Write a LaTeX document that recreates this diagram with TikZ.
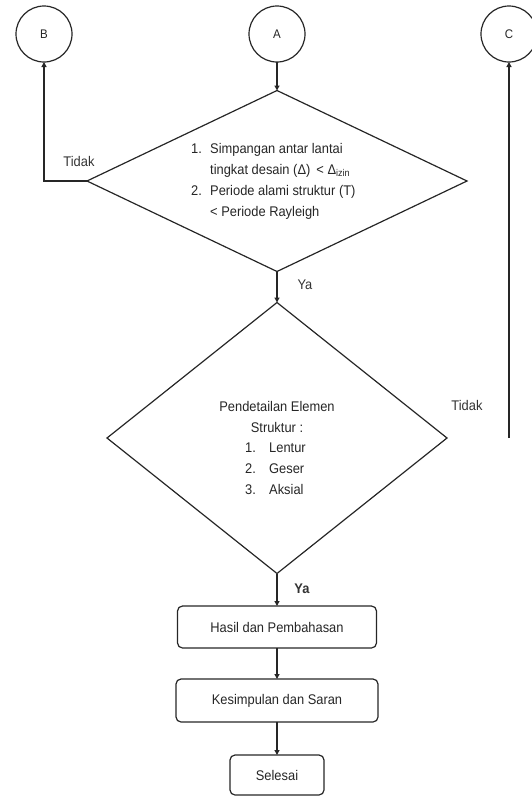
\documentclass[tikz,border=0pt]{standalone}
\usepackage{fontspec}
\setmainfont{Liberation Sans}[FakeStretch=0.92]
\usetikzlibrary{shapes.geometric,arrows.meta}
\begin{document}
\begin{tikzpicture}[x=1pt,y=-1pt,
  line/.style={draw=black!85,line width=1.2pt},
  arr/.style={line,-{Triangle[length=5pt,width=5pt]}},
  conn/.style={circle,line,minimum size=56pt,inner sep=0pt,outer sep=0pt,
    font=\fontsize{12.5}{14}\selectfont,text=black!85},
  dec/.style={diamond,line,inner sep=0pt,outer sep=0pt},
  txt/.style={font=\fontsize{14}{21}\selectfont,text=black!85,inner sep=0pt},
  box/.style={rectangle,line,rounded corners=5pt,inner sep=0pt,outer sep=0pt,
    font=\fontsize{14}{21}\selectfont,text=black!85},
  lbl/.style={font=\fontsize{14}{17}\selectfont,text=black!80,inner sep=0pt},
  blbl/.style={font=\fontsize{14}{17}\selectfont\bfseries,text=black!80,inner sep=0pt}
]
\useasboundingbox (0,0) rectangle (532,796);

% connectors (circles)
\node[conn] (B) at (44,34) {B};
\node[conn] (A) at (277,34) {A};
\node[conn] (C) at (509,34) {C};

% decision 1
\node[dec,minimum width=380pt,minimum height=181pt] (d1) at (277,181) {};
\node[txt,anchor=west] (d1t) at (191,181) {%
  \begin{tabular}{@{}p{19pt}@{}l@{}}
  1. & Simpangan antar lantai\\
     & tingkat desain (Δ)\hspace{6pt}< Δ\textsubscript{izin}\\
  2. & Periode alami struktur (T)\\
     & < Periode Rayleigh
  \end{tabular}};

% decision 2
\node[dec,minimum width=340pt,minimum height=271pt] (d2) at (277,438) {};
\node[txt,align=center] (d2h) at (277,416.5) {Pendetailan Elemen\\Struktur :};
\node[txt,anchor=west] (d2l) at (245,469.5) {%
  \begin{tabular}{@{}p{24pt}@{}l@{}}
  1. & Lentur\\
  2. & Geser\\
  3. & Aksial
  \end{tabular}};

% process boxes
\node[box,minimum width=199pt,minimum height=42pt] (hasil) at (277,627) {Hasil dan Pembahasan};
\node[box,minimum width=202pt,minimum height=43pt] (kes) at (277,700.5) {Kesimpulan dan Saran};
\node[box,minimum width=94pt,minimum height=40pt] (sel) at (277,775) {Selesai};

% labels
\node[lbl] (t1) at (79,161) {Tidak};
\node[lbl] (y1) at (305,285) {Ya};
\node[lbl] (t2) at (467,405) {Tidak};
\node[blbl] (y2) at (302,589) {Ya};

% connectors
\draw[arr] (A.south) -- (d1.north);
\draw[arr] (d1.west) -| (B.south);
\draw[arr] (d1.south) -- (d2.north);
\draw[arr] (d2.south) -- (hasil.north);
\draw[arr] (hasil.south) -- (kes.north);
\draw[arr] (kes.south) -- (sel.north);
\coordinate (cS) at (509,438);
\draw[arr] (cS) -- (C.south);
\end{tikzpicture}
\end{document}
